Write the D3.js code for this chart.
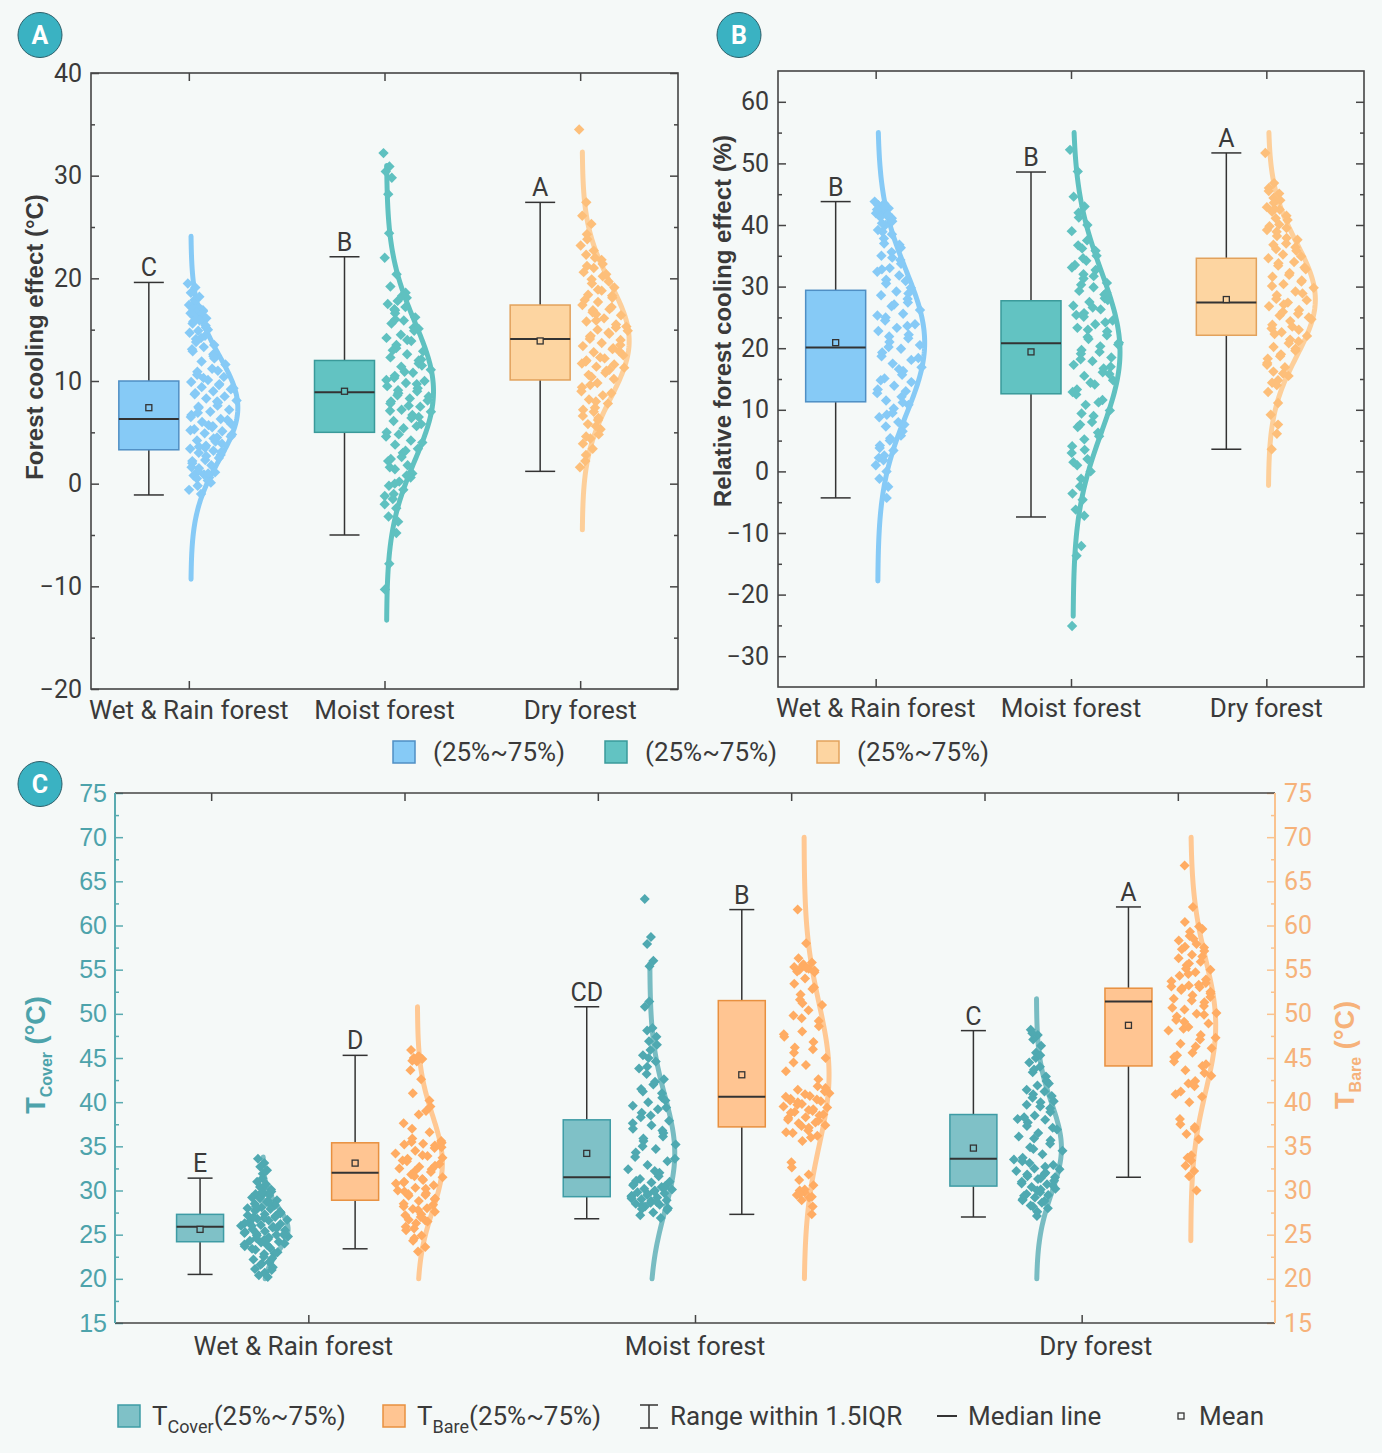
<!DOCTYPE html>
<html><head><meta charset="utf-8">
<script src="https://cdn.jsdelivr.net/npm/d3@7"></script>
<style>body{margin:0;background:#f5f9f8;} svg{display:block}</style>
</head><body><svg id="chart" width="1382" height="1453"></svg>
<script>
// ---------------- DATA ----------------
const categories = ["Wet & Rain forest", "Moist forest", "Dry forest"];
// box stats: [lowerWhisker, Q1, median, Q3, upperWhisker, mean]
const boxA = [[-1.1, 3.3, 6.3, 10.0, 19.6, 7.4], [-5.0, 5.0, 8.9, 12.0, 22.1, 9.0], [1.2, 10.1, 14.1, 17.4, 27.4, 13.9]];
const boxB = [[-4.3, 11.3, 20.1, 29.4, 43.8, 20.9], [-7.4, 12.6, 20.8, 27.7, 48.6, 19.4], [3.6, 22.1, 27.4, 34.6, 51.7, 27.9]];
const boxCover = [[20.5, 24.2, 25.9, 27.3, 31.4, 25.6], [26.8, 29.3, 31.5, 38.0, 50.8, 34.2], [27.0, 30.5, 33.6, 38.6, 48.1, 34.8]];
const boxBare = [[23.4, 28.9, 32.0, 35.4, 45.3, 33.1], [27.3, 37.2, 40.6, 51.5, 61.8, 43.1], [31.5, 44.1, 51.4, 52.9, 62.1, 48.7]];
const lettersA = ["C", "B", "A"];
const lettersB = ["B", "B", "A"];
const lettersCover = ["E", "CD", "C"];
const lettersBare = ["D", "B", "A"];
// normal distribution curve parameters
const curveA_mean = [7.4, 9.0, 13.9], curveA_sd = [5.06, 6.7, 5.57], curveA_lo = [-9.3, -13.3, -4.5], curveA_hi = [24.1, 31.0, 32.3];
const curveB_mean = [20.9, 19.4, 27.9], curveB_sd = [11.7, 13.0, 9.15], curveB_lo = [-17.8, -23.5, -2.3], curveB_hi = [55, 55, 55];
const curveCover_mean = [25.6, 34.2, 34.8], curveCover_sd = [2.5, 6.5, 5.1], curveCover_lo = [20, 20, 20], curveCover_hi = [33.8, 55.7, 51.7];
const curveBare_mean = [33.1, 43.1, 48.7], curveBare_sd = [5.4, 8.0, 7.4], curveBare_lo = [20, 20, 24.3], curveBare_hi = [50.8, 70, 70];
// axis ticks
const ticksA = [-20, -10, 0, 10, 20, 30, 40];
const ticksB = [-30, -20, -10, 0, 10, 20, 30, 40, 50, 60];
const ticksC = [15, 20, 25, 30, 35, 40, 45, 50, 55, 60, 65, 70, 75];
// scatter values
const ptsA_wet = [19.5,19.1,18.6,18.2,17.9,17.6,17.4,17.2,17.1,16.9,16.8,16.7,16.6,16.5,16.3,16.2,16.1,15.9,15.6,15.4,15.2,14.9,14.7,14.4,14.1,13.8,13.5,13.3,12.9,12.6,12.2,11.9,11.6,11.2,10.9,10.6,10.4,10.1,9.9,9.7,9.6,9.4,9.2,9.0,8.8,8.7,8.5,8.3,8.1,7.9,7.6,7.4,7.2,7.0,6.7,6.5,6.3,6.0,5.8,5.6,5.5,5.3,5.1,4.9,4.8,4.6,4.4,4.2,3.9,3.7,3.5,3.4,3.2,3.0,2.8,2.5,2.3,2.0,1.8,1.5,1.2,1.1,0.9,0.8,0.6,0.3,-0.2,-0.6,-1.0,
  16.4,15.8,15.0,14.2,13.1,12.4,11.0,10.3,9.3,8.0,7.5,6.9,6.2,5.7,5.2,4.5,4.1,3.6,3.1,2.7,2.2,1.6,1.0,0.5,0.1];
const ptsA_moist = [32.2,30.9,30.4,29.8,28.2,24.4,22.0,20.4,19.2,18.6,18.1,17.8,17.5,17.2,16.9,16.6,16.2,15.9,15.6,15.2,14.9,14.5,14.2,13.9,13.5,13.2,12.9,12.6,12.3,12.0,11.7,11.4,11.1,10.8,10.5,10.3,10.0,9.8,9.5,9.3,9.0,8.8,8.5,8.3,8.0,7.8,7.5,7.2,7.0,6.7,6.4,6.1,5.8,5.4,5.0,4.6,4.2,3.8,3.4,3.0,2.6,2.2,1.8,1.4,1.0,0.6,0.2,-0.2,-0.6,-1.0,-1.5,-2.0,-2.4,-3.2,-3.7,-4.8,-7.8,-10.3,
  18.3,17.0,16.0,15.1,14.0,13.0,12.1,11.5,10.9,10.1,9.7,9.1,8.6,8.1,7.6,7.1,6.5,5.6,4.8,4.0,3.2,2.4,1.6,0.8,0.0,-1.2];
const ptsA_dry = [34.5,27.4,26.1,25.3,24.3,23.8,23.2,22.7,22.3,21.8,21.4,21.0,20.6,20.2,19.9,19.5,19.1,18.8,18.4,18.3,18.1,17.7,17.4,17.0,16.9,16.7,16.4,16.1,15.8,15.5,15.2,15.0,14.9,14.6,14.4,14.3,14.0,13.7,13.4,13.2,13.1,12.8,12.5,12.2,12.0,11.9,11.6,11.4,11.3,11.0,10.8,10.6,10.2,9.8,9.4,9.0,8.6,8.2,7.8,7.4,7.0,6.6,6.2,5.8,5.3,4.8,4.4,3.9,3.4,2.8,2.2,1.6,
  22.0,21.2,20.4,19.7,18.9,17.9,17.2,16.5,15.9,15.3,14.7,14.1,13.5,12.9,12.3,11.7,11.1,10.4,9.6,8.8,8.0,7.2,6.4,5.6,4.6];
const ptsB_wet = [43.8,43.5,43.2,42.7,42.3,42.0,41.9,41.5,41.3,41.1,40.6,40.0,39.2,38.5,37.8,37.0,36.3,35.6,35.0,34.3,33.7,33.0,32.4,31.8,31.1,30.5,29.8,29.2,28.6,28.0,27.4,26.8,26.2,25.6,25.0,24.5,23.9,23.3,22.8,22.2,21.6,21.0,20.5,19.9,19.3,18.7,18.1,17.5,16.9,16.3,15.7,15.1,14.5,13.9,13.3,12.7,12.1,11.5,10.8,10.2,9.5,8.8,8.0,7.3,6.5,5.8,5.0,4.2,3.4,2.6,1.8,1.0,0.0,-1.2,-2.5,-4.3,
  42.9,42.5,41.7,40.3,38.9,36.8,34.7,32.8,30.9,28.9,27.1,25.3,23.6,21.9,20.2,18.4,16.6,14.8,13.0,11.2,9.2,7.6,5.4,3.8,2.2];
const ptsB_moist = [52.2,48.7,44.6,43.0,42.0,41.2,39.0,37.5,36.7,35.8,35.0,34.2,33.5,32.7,32.0,31.3,30.6,29.9,29.3,28.7,28.1,27.5,26.9,26.3,25.7,25.1,24.5,23.9,23.3,22.7,22.1,21.5,20.9,20.3,19.7,19.1,18.5,17.9,17.3,16.7,16.1,15.5,14.8,14.1,13.3,12.5,11.6,10.8,9.9,9.0,8.0,7.2,6.3,5.2,4.1,3.0,2.0,1.0,0.0,-1.2,-2.4,-3.6,-4.6,-6.2,-7.2,-12.1,-13.7,-25.1,
  40.0,36.2,34.6,33.1,31.7,30.3,29.0,27.8,26.6,25.4,24.2,23.0,21.8,20.6,19.4,18.2,17.0,15.8,14.4,12.9,11.2,9.4,7.6,5.7,3.5,1.5];
const ptsB_dry = [51.7,46.8,46.0,45.1,44.4,43.6,42.9,42.5,42.2,41.5,40.8,40.1,39.8,39.5,38.9,38.2,37.6,37.0,36.8,36.4,35.8,35.2,34.6,34.0,33.8,33.4,32.8,32.2,31.6,31.0,30.8,30.4,29.8,29.2,28.6,28.0,27.8,27.4,26.8,26.2,25.6,25.3,25.0,24.4,23.8,23.2,23.0,22.6,22.0,21.4,20.8,20.2,19.6,19.0,18.3,17.6,16.9,16.2,15.5,14.8,14.0,12.9,11.1,9.2,7.6,6.1,3.6,
  45.5,44.0,42.6,41.1,39.2,37.9,36.1,34.9,33.1,31.9,30.1,28.9,27.1,25.9,24.7,23.5,22.3,21.1,19.9,18.7,17.3,15.9,14.4];
const ptsC_wetCover = [33.6,33.1,32.7,32.3,31.9,31.4,31.0,30.7,30.4,30.1,29.9,29.7,29.6,29.5,29.3,29.1,28.9,28.7,28.5,28.4,28.3,28.1,28.0,27.9,27.8,27.7,27.5,27.3,27.2,27.1,27.0,26.8,26.7,26.6,26.5,26.4,26.2,26.1,26.0,25.9,25.8,25.6,25.5,25.4,25.3,25.2,25.0,24.9,24.8,24.7,24.5,24.3,24.2,24.1,23.9,23.7,23.5,23.3,23.0,22.8,22.5,22.2,21.9,21.6,21.3,21.0,20.7,20.4,20.2,
  30.2,29.8,29.2,28.8,28.2,27.6,27.4,26.9,26.3,25.7,25.1,24.6,24.0,23.8,23.4,22.9,22.3,21.7,21.1,28.6,27.0,26.0,25.0,24.4];
const ptsC_wetBare = [45.9,45.2,45.0,44.9,44.8,44.6,43.6,42.6,41.0,40.2,39.5,38.6,37.6,36.6,35.9,35.5,35.4,35.3,35.2,35.1,34.8,34.5,34.2,33.9,33.6,33.3,33.0,32.7,32.5,32.4,32.1,31.8,31.5,31.2,31.0,30.9,30.6,30.3,30.0,29.7,29.5,29.4,29.1,28.8,28.5,28.2,28.0,27.9,27.6,27.3,27.0,26.7,26.5,26.3,25.9,25.5,24.9,24.3,23.6,23.1,
  45.1,44.7,39.0,37.0,35.6,34.9,34.0,33.4,32.8,32.2,31.6,30.8,30.2,29.6,29.0,28.4,27.8,27.2,26.6,25.7,24.6,33.7,31.3,29.9];
const ptsC_moistCover = [63.0,58.7,57.9,56.0,55.4,51.4,50.8,48.4,48.1,47.4,46.5,45.9,45.3,44.6,44.0,43.2,42.6,42.0,41.5,41.0,40.5,40.0,39.6,39.2,38.8,38.3,37.9,37.4,37.0,36.5,36.1,35.6,35.2,34.7,34.3,33.8,33.3,32.9,32.4,32.0,31.6,31.3,31.0,30.9,30.7,30.6,30.4,30.2,30.1,30.0,29.9,29.8,29.7,29.6,29.4,29.3,29.2,29.0,28.9,28.8,28.6,28.5,28.4,28.2,28.0,27.8,27.5,27.2,26.9,
  46.9,45.0,43.8,42.3,41.2,40.2,39.4,38.5,37.6,36.8,35.9,35.0,33.6,32.2,31.1,30.5,30.3,29.5,29.1,28.7,28.3,27.9];
const ptsC_moistBare = [61.8,58.0,56.3,55.8,55.6,55.5,55.3,55.1,55.0,54.9,54.7,54.0,53.4,52.8,52.2,51.6,51.0,50.4,49.8,49.2,48.6,48.0,47.4,46.8,46.2,45.6,45.0,44.2,43.5,42.6,41.8,41.4,41.0,40.7,40.4,40.2,40.1,39.8,39.5,39.2,39.0,38.9,38.6,38.3,38.2,38.0,37.7,37.6,37.4,37.1,36.8,36.5,36.2,35.6,33.2,32.6,31.8,31.2,30.6,30.1,29.8,29.5,29.2,28.9,28.2,27.3,
  55.2,54.8,53.0,51.2,49.5,47.7,46.0,44.5,41.6,41.2,40.9,40.6,40.3,40.0,39.7,39.4,39.1,38.8,38.5,37.9,37.3,36.6,36.0,30.0,29.6,29.3];
const ptsC_dryCover = [48.2,47.6,47.1,46.4,45.6,45.0,44.5,44.0,43.4,42.9,42.4,41.9,41.4,41.2,40.9,40.5,40.1,40.0,39.7,39.3,38.9,38.5,38.1,38.0,37.7,37.3,36.9,36.5,36.1,35.7,35.3,34.9,34.5,34.1,33.7,33.3,32.9,32.5,32.2,32.0,31.9,31.6,31.5,31.3,31.0,30.8,30.7,30.4,30.2,30.1,29.8,29.6,29.5,29.2,29.0,28.9,28.6,28.3,28.0,27.6,27.1,
  47.8,45.3,43.7,42.1,40.7,39.5,38.3,37.1,35.9,34.7,33.5,32.7,31.8,31.1,30.6,30.0,29.4,28.8,28.2,33.1,32.4,31.4];
const ptsC_dryBare = [66.8,62.1,60.4,59.9,59.3,58.8,58.3,57.9,57.6,57.5,57.1,56.7,56.3,55.9,55.5,55.1,55.0,54.7,54.3,53.9,53.5,53.2,53.1,53.0,52.9,52.8,52.5,52.1,51.7,51.3,50.9,50.5,50.1,50.0,49.7,49.3,48.9,48.5,48.1,47.6,47.1,46.6,46.1,45.6,45.1,44.6,44.1,43.6,43.0,42.4,41.8,41.2,40.6,40.0,38.1,37.5,37.0,36.4,35.8,34.0,33.4,32.8,32.2,31.6,30.0,
  59.6,58.5,57.3,56.5,55.7,54.5,53.7,53.3,52.7,52.3,51.9,51.5,50.7,49.9,49.1,48.3,47.3,46.3,45.3,44.3,43.3,42.1,40.9,37.2,33.7];

// ---------------- DRAWING ----------------
const svg = d3.select("#chart");
const FONT = "Roboto, 'Liberation Sans', Arial, sans-serif";
const TFONT = "'Liberation Sans', Arial, sans-serif";
const INK = "#3a3a3a";
const AX = "#454545";
svg.append("rect").attr("width", 1382).attr("height", 1453).attr("fill", "#f5f9f8");

const PHI = 0.6180339887498949;
const gauss = (v, m, s) => Math.exp(-0.5 * ((v - m) / s) ** 2);
const diamond = r => `M0,${-r}L${r},0L0,${r}L${-r},0Z`;

const colAB = [
  {fill: "#86CAF6", stroke: "#4F8FC4", pt: "#86CAF6", curve: "#86CAF6"},
  {fill: "#62C3C2", stroke: "#3A9A9A", pt: "#5FC1C0", curve: "#5FC1C0"},
  {fill: "#FDD5A1", stroke: "#E2A25C", pt: "#FDBF7A", curve: "#FDCF9A"}
];
const colCover = {fill: "#7FC1C7", stroke: "#3E9CA5", pt: "#4FA9B1", curve: "#78BCC2"};
const colBare = {fill: "#FFC592", stroke: "#E8903F", pt: "#FFAC63", curve: "#FFC893"};

function styleTicks(g, lineColor, textColor, size, fam) {
  g.select(".domain").remove();
  g.selectAll(".tick line").attr("stroke", lineColor).attr("stroke-width", 1.5);
  g.selectAll(".tick text").attr("fill", textColor).style("font-family", fam || FONT).style("font-size", size + "px");
}

function drawGroup(g, y, o) {
  const {m, s, lo, hi} = o.curve;
  const vs = d3.range(0, 161).map(k => lo + (hi - lo) * k / 160);
  g.append("path")
    .attr("d", d3.line().x(v => o.base + o.W * gauss(v, m, s)).y(v => y(v))(vs))
    .attr("fill", "none").attr("stroke", o.col.curve).attr("stroke-width", 5)
    .attr("stroke-linecap", "round").attr("stroke-linejoin", "round");
  o.pts.forEach((v, k) => {
    const f = (k * PHI + Math.floor(k / 5) * 0.37) % 1;
    const dens = gauss(v, m, s);
    const dx = o.side === "both"
      ? (2 * f - 1) * o.W * (0.2 + 0.85 * dens)
      : -3 + f * o.W * (0.2 + 0.85 * dens);
    g.append("path").attr("d", diamond(o.r))
      .attr("transform", `translate(${o.base + dx},${y(v)})`)
      .attr("fill", o.col.pt);
  });
  const [wl, q1, med, q3, wh, mean] = o.box;
  const cx = o.cx;
  g.append("line").attr("x1", cx).attr("x2", cx).attr("y1", y(wh)).attr("y2", y(q3)).attr("stroke", "#333").attr("stroke-width", 1.5);
  g.append("line").attr("x1", cx).attr("x2", cx).attr("y1", y(q1)).attr("y2", y(wl)).attr("stroke", "#333").attr("stroke-width", 1.5);
  [wh, wl].forEach(v => g.append("line").attr("x1", cx - o.cap / 2).attr("x2", cx + o.cap / 2)
    .attr("y1", y(v)).attr("y2", y(v)).attr("stroke", "#333").attr("stroke-width", 1.5));
  g.append("rect").attr("x", cx - o.bw / 2).attr("y", y(q3)).attr("width", o.bw).attr("height", y(q1) - y(q3))
    .attr("fill", o.col.fill).attr("stroke", o.col.stroke).attr("stroke-width", 1.5);
  g.append("line").attr("x1", cx - o.bw / 2).attr("x2", cx + o.bw / 2).attr("y1", y(med)).attr("y2", y(med))
    .attr("stroke", "#333").attr("stroke-width", 2);
  g.append("rect").attr("x", cx - 3).attr("y", y(mean) - 3).attr("width", 6).attr("height", 6)
    .attr("fill", o.col.fill).attr("stroke", "#333").attr("stroke-width", 1.3);
  g.append("text").attr("x", cx).attr("y", y(wh) - 6).attr("text-anchor", "middle")
    .style("font-family", FONT).style("font-size", "25px").attr("fill", INK).text(o.letter);
}

function panelAB(cfg) {
  const x = d3.scalePoint().domain(categories).range([cfg.x0, cfg.x1]).padding(0.5);
  const y = d3.scaleLinear().domain(cfg.domain).range([cfg.y1, cfg.y0]);
  const g = svg.append("g");
  const minors = d3.range(cfg.domain[0], cfg.domain[1] + 0.01, 5).filter(v => !cfg.ticks.includes(v) && v > cfg.domain[0] && v < cfg.domain[1]);
  g.append("g").attr("transform", `translate(${cfg.x0},0)`)
    .call(d3.axisLeft(y).tickValues(cfg.ticks).tickSizeInner(-8).tickSizeOuter(0).tickPadding(9))
    .call(a => styleTicks(a, AX, INK, 25));
  g.append("g").attr("transform", `translate(${cfg.x0},0)`)
    .call(d3.axisLeft(y).tickValues(minors).tickSizeInner(-4).tickSizeOuter(0).tickFormat(""))
    .call(a => styleTicks(a, AX, INK, 25));
  g.append("g").attr("transform", `translate(${cfg.x1},0)`)
    .call(d3.axisRight(y).tickValues(cfg.ticks).tickSizeInner(-8).tickSizeOuter(0).tickFormat(""))
    .call(a => styleTicks(a, AX, INK, 25));
  g.append("g").attr("transform", `translate(${cfg.x1},0)`)
    .call(d3.axisRight(y).tickValues(minors).tickSizeInner(-4).tickSizeOuter(0).tickFormat(""))
    .call(a => styleTicks(a, AX, INK, 25));
  g.append("g").attr("transform", `translate(0,${cfg.y0})`)
    .call(d3.axisTop(x).tickSizeInner(-8).tickSizeOuter(0).tickFormat(""))
    .call(a => styleTicks(a, AX, INK, 25));
  g.append("g").attr("transform", `translate(0,${cfg.y1})`)
    .call(d3.axisBottom(x).tickSizeInner(-8).tickSizeOuter(0).tickFormat(""))
    .call(a => styleTicks(a, AX, INK, 25));
  g.append("rect").attr("x", cfg.x0).attr("y", cfg.y0).attr("width", cfg.x1 - cfg.x0).attr("height", cfg.y1 - cfg.y0)
    .attr("fill", "none").attr("stroke", AX).attr("stroke-width", 1.6);
  categories.forEach((c, i) => {
    g.append("text").attr("x", x(c)).attr("y", cfg.y1 + 30).attr("text-anchor", "middle")
      .style("font-family", FONT).style("font-size", "26px").attr("fill", INK).text(c);
    drawGroup(g, y, {
      cx: x(c) - 40, box: cfg.boxes[i], letter: cfg.letters[i],
      curve: {m: cfg.cm[i], s: cfg.cs[i], lo: cfg.clo[i], hi: cfg.chi[i]},
      base: x(c) + 2, W: 47, pts: cfg.pts[i], col: colAB[i], bw: 60, cap: 30, side: "right", r: 5.2
    });
  });
  g.append("text").attr("transform", `translate(${cfg.titleX},${cfg.titleY}) rotate(-90)`)
    .attr("text-anchor", "middle").style("font-family", TFONT).style("font-size", "24px").style("font-weight", "bold")
    .attr("fill", INK).text(cfg.title);
}

panelAB({x0: 91, x1: 678, y0: 73, y1: 689, domain: [-20, 40], ticks: ticksA, boxes: boxA, letters: lettersA,
  cm: curveA_mean, cs: curveA_sd, clo: curveA_lo, chi: curveA_hi, pts: [ptsA_wet, ptsA_moist, ptsA_dry],
  title: "Forest cooling effect (°C)", titleX: 43, titleY: 337});
panelAB({x0: 778, x1: 1364, y0: 71, y1: 687, domain: [-35, 65], ticks: ticksB, boxes: boxB, letters: lettersB,
  cm: curveB_mean, cs: curveB_sd, clo: curveB_lo, chi: curveB_hi, pts: [ptsB_wet, ptsB_moist, ptsB_dry],
  title: "Relative forest cooling effect (%)", titleX: 731, titleY: 321});

// ---- Panel C ----
(function () {
  const x0 = 115, x1 = 1275, y0 = 793, y1 = 1323;
  const x = d3.scalePoint().domain(categories).range([x0, x1]).padding(0.5);
  const step = x.step();
  const y = d3.scaleLinear().domain([15, 75]).range([y1, y0]);
  const g = svg.append("g");
  const minors = d3.range(17.5, 75, 5);
  const teal = "#5AABB1", tealText = "#4DA3AB", orange = "#FAC38F", orangeText = "#F6B27A";
  g.append("g").attr("transform", `translate(${x0},0)`)
    .call(d3.axisLeft(y).tickValues(ticksC).tickSizeInner(-8).tickSizeOuter(0).tickPadding(8))
    .call(a => styleTicks(a, teal, tealText, 25, "'Liberation Sans', Arial, sans-serif"));
  g.append("g").attr("transform", `translate(${x0},0)`)
    .call(d3.axisLeft(y).tickValues(minors).tickSizeInner(-4).tickSizeOuter(0).tickFormat(""))
    .call(a => styleTicks(a, teal, tealText, 25));
  g.append("g").attr("transform", `translate(${x1},0)`)
    .call(d3.axisRight(y).tickValues(ticksC).tickSizeInner(-8).tickSizeOuter(0).tickPadding(9))
    .call(a => styleTicks(a, orange, orangeText, 25));
  g.append("g").attr("transform", `translate(${x1},0)`)
    .call(d3.axisRight(y).tickValues(minors).tickSizeInner(-4).tickSizeOuter(0).tickFormat(""))
    .call(a => styleTicks(a, orange, orangeText, 25));
  const topTicks = [];
  categories.forEach(c => { topTicks.push(x(c) - step / 4, x(c) + step / 4); });
  topTicks.forEach(t => g.append("line").attr("x1", t).attr("x2", t).attr("y1", y0).attr("y2", y0 + 8).attr("stroke", AX).attr("stroke-width", 1.5));
  g.append("g").attr("transform", `translate(0,${y1})`)
    .call(d3.axisBottom(x).tickSizeInner(-8).tickSizeOuter(0).tickFormat(""))
    .call(a => styleTicks(a, AX, INK, 25));
  g.append("line").attr("x1", x0).attr("x2", x1).attr("y1", y0).attr("y2", y0).attr("stroke", AX).attr("stroke-width", 1.6);
  g.append("line").attr("x1", x0).attr("x2", x1).attr("y1", y1).attr("y2", y1).attr("stroke", AX).attr("stroke-width", 1.6);
  g.append("line").attr("x1", x0).attr("x2", x0).attr("y1", y0).attr("y2", y1).attr("stroke", teal).attr("stroke-width", 2);
  g.append("line").attr("x1", x1).attr("x2", x1).attr("y1", y0).attr("y2", y1).attr("stroke", orange).attr("stroke-width", 2);

  const labelShift = [-15, 0, 14];
  const coverPts = [ptsC_wetCover, ptsC_moistCover, ptsC_dryCover];
  const barePts = [ptsC_wetBare, ptsC_moistBare, ptsC_dryBare];
  categories.forEach((c, i) => {
    const cx = x(c);
    g.append("text").attr("x", cx + labelShift[i]).attr("y", y1 + 32).attr("text-anchor", "middle")
      .style("font-family", FONT).style("font-size", "26px").attr("fill", INK).text(c);
    drawGroup(g, y, {
      cx: cx - 0.28 * step, box: boxCover[i], letter: lettersCover[i],
      curve: {m: curveCover_mean[i], s: curveCover_sd[i], lo: curveCover_lo[i], hi: curveCover_hi[i]},
      base: cx - 0.117 * step, W: 25, pts: coverPts[i], col: colCover, bw: 47, cap: 25, side: "both", r: 5
    });
    drawGroup(g, y, {
      cx: cx + 0.121 * step, box: boxBare[i], letter: lettersBare[i],
      curve: {m: curveBare_mean[i], s: curveBare_sd[i], lo: curveBare_lo[i], hi: curveBare_hi[i]},
      base: cx + 0.282 * step, W: 25, pts: barePts[i], col: colBare, bw: 47, cap: 25, side: "both", r: 5
    });
  });
  const lt = g.append("text").attr("transform", `translate(45,1055) rotate(-90)`).attr("text-anchor", "middle")
    .style("font-family", TFONT).style("font-weight", "bold").attr("fill", "#4DA3AB");
  lt.append("tspan").style("font-size", "27px").text("T");
  lt.append("tspan").style("font-size", "16px").attr("dy", 7).text("Cover");
  lt.append("tspan").style("font-size", "27px").attr("dy", -7).text(" (°C)");
  const rt = g.append("text").attr("transform", `translate(1354,1055) rotate(-90)`).attr("text-anchor", "middle")
    .style("font-family", TFONT).style("font-weight", "bold").attr("fill", "#F6B27A");
  rt.append("tspan").style("font-size", "27px").text("T");
  rt.append("tspan").style("font-size", "16px").attr("dy", 7).text("Bare");
  rt.append("tspan").style("font-size", "27px").attr("dy", -7).text(" (°C)");
})();

// ---- panel badges ----
[["A", 40, 35], ["B", 739, 35], ["C", 40, 784]].forEach(([t, cx, cy]) => {
  svg.append("ellipse").attr("cx", cx).attr("cy", cy).attr("rx", 22).attr("ry", 22.5)
    .attr("fill", "#3AB2C2").attr("stroke", "#2b5f6a").attr("stroke-width", 1);
  svg.append("text").attr("x", cx).attr("y", cy + 9).attr("text-anchor", "middle")
    .style("font-family", FONT).style("font-size", "25px").style("font-weight", "bold").attr("fill", "#fff").text(t);
});

// ---- middle legend ----
[[393, colAB[0]], [605, colAB[1]], [817, colAB[2]]].forEach(([lx, c]) => {
  svg.append("rect").attr("x", lx).attr("y", 741).attr("width", 22).attr("height", 22)
    .attr("fill", c.fill).attr("stroke", c.stroke).attr("stroke-width", 1.5);
  svg.append("text").attr("x", lx + 40).attr("y", 761).style("font-family", FONT).style("font-size", "26px")
    .attr("fill", INK).text("(25%~75%)");
});

// ---- bottom legend ----
(function () {
  const ly = 1416;
  const items = [[118, colCover, "Cover"], [383, colBare, "Bare"]];
  items.forEach(([lx, c, sub]) => {
    svg.append("rect").attr("x", lx).attr("y", ly - 11).attr("width", 22).attr("height", 22)
      .attr("fill", c.fill).attr("stroke", c.stroke).attr("stroke-width", 1.5);
    const t = svg.append("text").attr("x", lx + 34).attr("y", ly + 9).style("font-family", FONT).attr("fill", INK);
    t.append("tspan").style("font-size", "26px").text("T");
    t.append("tspan").style("font-size", "18px").attr("dy", 8).text(sub);
    t.append("tspan").style("font-size", "26px").attr("dy", -8).text("(25%~75%)");
  });
  const bx = 649;
  svg.append("line").attr("x1", bx - 9).attr("x2", bx + 9).attr("y1", ly - 11).attr("y2", ly - 11).attr("stroke", "#333").attr("stroke-width", 1.5);
  svg.append("line").attr("x1", bx).attr("x2", bx).attr("y1", ly - 11).attr("y2", ly + 12).attr("stroke", "#333").attr("stroke-width", 1.5);
  svg.append("line").attr("x1", bx - 9).attr("x2", bx + 9).attr("y1", ly + 12).attr("y2", ly + 12).attr("stroke", "#333").attr("stroke-width", 1.5);
  svg.append("text").attr("x", 670).attr("y", ly + 9).style("font-family", FONT).style("font-size", "26px").attr("fill", INK).text("Range within 1.5IQR");
  svg.append("line").attr("x1", 937).attr("x2", 957).attr("y1", ly).attr("y2", ly).attr("stroke", "#333").attr("stroke-width", 2);
  svg.append("text").attr("x", 968).attr("y", ly + 9).style("font-family", FONT).style("font-size", "26px").attr("fill", INK).text("Median line");
  svg.append("rect").attr("x", 1178).attr("y", ly - 3).attr("width", 6).attr("height", 6).attr("fill", "none").attr("stroke", "#333").attr("stroke-width", 1.3);
  svg.append("text").attr("x", 1199).attr("y", ly + 9).style("font-family", FONT).style("font-size", "26px").attr("fill", INK).text("Mean");
})();
</script></body></html>
